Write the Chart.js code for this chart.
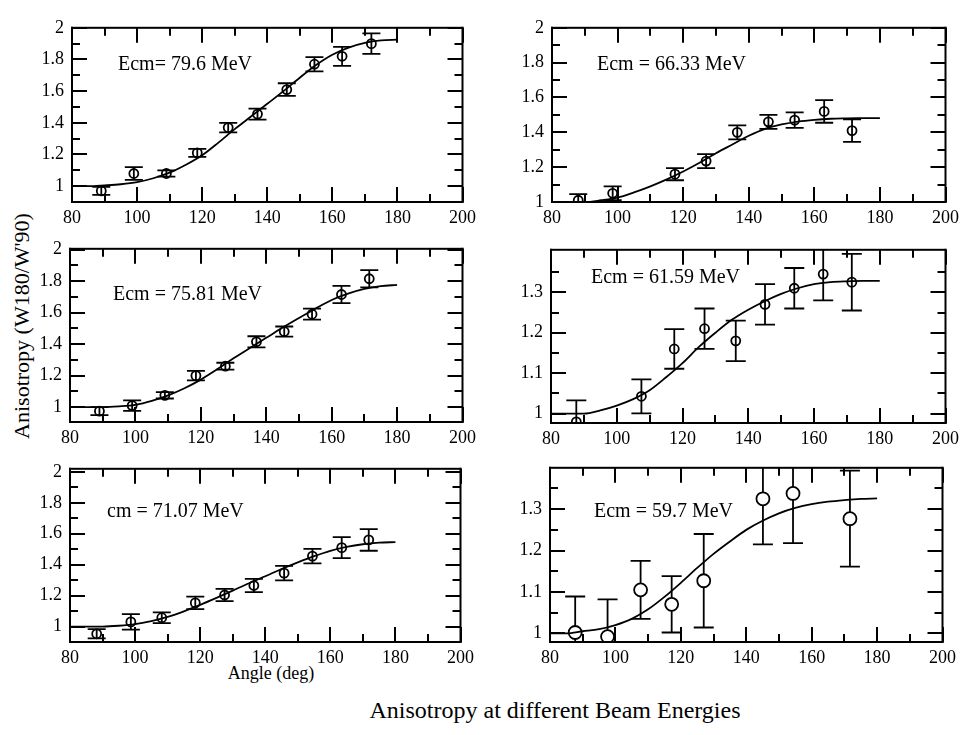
<!DOCTYPE html>
<html>
<head>
<meta charset="utf-8">
<script src="https://cdn.jsdelivr.net/npm/chart.js@4.4.1/dist/chart.umd.min.js"></script>
<style>
  body { margin: 0; background: #fff; }
  #page { position: relative; width: 978px; height: 735px; overflow: hidden; font-family: "Liberation Serif", serif; color: #000; }
  #page canvas { position: absolute; }
  .txt { position: absolute; white-space: nowrap; }
</style>
</head>
<body>
<div id="page">
  <div class="txt" style="left:22px; top:326px; font-size:22px; line-height:22px; transform:translate(-50%,-50%) rotate(-90deg);">Anisotropy (W180/W'90)</div>
  <div class="txt" style="left:271px; top:664px; font-size:18px; line-height:18px; transform:translateX(-50%);">Angle (deg)</div>
  <div class="txt" style="left:555px; top:698px; font-size:24px; line-height:24px; transform:translateX(-50%);">Anisotropy at different Beam Energies</div>
</div>
<script>
// tick values
var xTicks = [80, 100, 120, 140, 160, 180, 200];
var xMinor = [90, 110, 130, 150, 170, 190];
var yTicksWide = [1, 1.2, 1.4, 1.6, 1.8, 2];
var yMinorWide = [1.1, 1.3, 1.5, 1.7, 1.9];
var yTicksNarrow = [1, 1.1, 1.2, 1.3];
var yMinorNarrow = [1.05, 1.15, 1.25, 1.35];

// angles of the fitted curves
var fitAngles = [80, 85, 90, 95, 100, 105, 110, 115, 120, 125, 130, 135, 140, 145, 150, 155, 160, 165, 170, 175, 180];

// Ecm = 79.6 MeV
var ang796 = [89, 99, 109, 118.5, 128, 137, 146, 154.5, 163, 172];
var val796 = [0.97, 1.08, 1.08, 1.21, 1.37, 1.455, 1.61, 1.77, 1.82, 1.9];
var err796 = [0.025, 0.04, 0.02, 0.025, 0.03, 0.035, 0.04, 0.045, 0.06, 0.065];
var fit796 = [1.0, 1.0, 1.005, 1.012, 1.025, 1.05, 1.085, 1.135, 1.195, 1.275, 1.36, 1.44, 1.52, 1.6, 1.685, 1.765, 1.83, 1.875, 1.905, 1.92, 1.925];

// Ecm = 66.33 MeV
var ang6633 = [88, 98.5, 117.5, 127, 136.5, 146, 154, 163, 171.5];
var val6633 = [1.01, 1.05, 1.16, 1.235, 1.4, 1.46, 1.47, 1.52, 1.41];
var err6633 = [0.035, 0.04, 0.035, 0.04, 0.04, 0.04, 0.045, 0.065, 0.065];
var fit6633 = [1.0, 1.0, 1.0, 1.01, 1.025, 1.055, 1.09, 1.13, 1.175, 1.225, 1.28, 1.33, 1.38, 1.42, 1.445, 1.462, 1.472, 1.478, 1.48, 1.481, 1.482];

// Ecm = 75.81 MeV
var ang7581 = [89, 99, 109, 118.5, 127.5, 137, 145.5, 154, 163, 171.5];
var val7581 = [0.975, 1.01, 1.075, 1.2, 1.26, 1.415, 1.48, 1.59, 1.715, 1.815];
var err7581 = [0.025, 0.033, 0.02, 0.03, 0.022, 0.035, 0.032, 0.035, 0.055, 0.055];
var fit7581 = [1.0, 1.0, 1.0, 1.005, 1.015, 1.04, 1.075, 1.12, 1.175, 1.24, 1.31, 1.375, 1.44, 1.505, 1.566, 1.625, 1.68, 1.72, 1.75, 1.768, 1.776];

// Ecm = 61.59 MeV
var ang6159 = [87.7, 107.5, 117.5, 126.7, 136.2, 145.1, 154, 162.8, 171.5];
var val6159 = [0.98, 1.043, 1.16, 1.21, 1.18, 1.27, 1.31, 1.345, 1.325];
var err6159 = [0.053, 0.042, 0.049, 0.05, 0.05, 0.05, 0.05, 0.065, 0.07];
var fit6159 = [1.0, 1.0, 1.0, 1.008, 1.02, 1.036, 1.058, 1.09, 1.125, 1.165, 1.2, 1.232, 1.257, 1.278, 1.296, 1.31, 1.32, 1.325, 1.327, 1.328, 1.328];

// Ecm = 71.07 MeV
var ang7107 = [88.2, 98.7, 108.2, 118.5, 127.5, 136.5, 145.8, 154.5, 163.5, 171.8];
var val7107 = [0.953, 1.03, 1.057, 1.153, 1.204, 1.265, 1.345, 1.455, 1.51, 1.56];
var err7107 = [0.03, 0.05, 0.035, 0.04, 0.04, 0.043, 0.047, 0.047, 0.068, 0.07];
var fit7107 = [1.0, 1.0, 1.0, 1.005, 1.015, 1.035, 1.062, 1.098, 1.14, 1.185, 1.232, 1.28, 1.325, 1.372, 1.415, 1.455, 1.49, 1.515, 1.532, 1.542, 1.546];

// Ecm = 59.7 MeV
var ang597 = [87.7, 97.6, 107.7, 117.2, 127, 145.1, 154.3, 171.7];
var val597 = [1.002, 0.992, 1.105, 1.07, 1.127, 1.325, 1.338, 1.277];
var err597 = [0.087, 0.09, 0.07, 0.068, 0.113, 0.11, 0.12, 0.116];
var fit597 = [1.0, 1.0, 1.005, 1.01, 1.02, 1.035, 1.058, 1.088, 1.122, 1.158, 1.192, 1.222, 1.25, 1.272, 1.29, 1.303, 1.312, 1.318, 1.322, 1.325, 1.326];

var FONT = '"Liberation Serif", serif';
var AXIS_W = 60, AXIS_H = 34, PAD_TOP = 24, PAD_RIGHT = 24;
var MAJOR = 15, MINOR = 8;

function pairs(xs, ys) {
  return xs.map(function(x, i) { return {x: x, y: ys[i]}; });
}

function seg(ctx, x1, y1, x2, y2) {
  ctx.beginPath();
  ctx.moveTo(x1, y1);
  ctx.lineTo(x2, y2);
  ctx.stroke();
}

// tick marks pointing into the box (negative tickLength), no grid lines
function inwardGrid(len) {
  return { display: true, drawOnChartArea: false, drawTicks: true, tickLength: -len,
           tickWidth: 2, tickColor: '#000', lineWidth: 2, color: '#000' };
}

// zero-size axis that only carries tick marks on one side of the box
function tickAxis(axis, position, min, max, values, len, weight) {
  return {
    type: 'linear', axis: axis, position: position, min: min, max: max, weight: weight,
    grid: inwardGrid(len),
    border: { display: false },
    ticks: { display: false, autoSkip: false },
    afterBuildTicks: function(s) { s.ticks = values.map(function(v) { return {value: v}; }); },
    afterFit: function(s) { if (axis === 'x') s.height = 0; else s.width = 0; }
  };
}

// error bars under the markers, box on top, energy label last
var panelPlugin = {
  id: 'panelmarks',
  beforeDatasetsDraw: function(chart) {
    var ctx = chart.ctx, a = chart.chartArea, sy = chart.scales.y;
    var panel = chart.config.options.panel;
    var cap = panel.cap;
    ctx.save();
    ctx.beginPath();
    ctx.rect(a.left, a.top, a.right - a.left, a.bottom - a.top);
    ctx.clip();
    ctx.strokeStyle = '#000';
    ctx.lineWidth = 1.8;
    chart.getDatasetMeta(1).data.forEach(function(pt, i) {
      var v = panel.val[i], e = panel.err[i];
      var hi = sy.getPixelForValue(v + e), lo = sy.getPixelForValue(v - e);
      seg(ctx, pt.x, hi, pt.x, lo);
      seg(ctx, pt.x - cap, hi, pt.x + cap, hi);
      seg(ctx, pt.x - cap, lo, pt.x + cap, lo);
    });
    ctx.restore();
  },
  afterDatasetsDraw: function(chart) {
    var ctx = chart.ctx, a = chart.chartArea;
    ctx.save();
    ctx.fillStyle = '#000';
    var w = a.right - a.left, h = a.bottom - a.top;
    ctx.fillRect(a.left - 1, a.top - 1, w + 2, 2);
    ctx.fillRect(a.left - 1, a.bottom - 1, w + 2, 2);
    ctx.fillRect(a.left - 1, a.top - 1, 2, h + 2);
    ctx.fillRect(a.right - 1, a.top - 1, 2, h + 2);
    ctx.restore();
  },
  afterDraw: function(chart) {
    var ctx = chart.ctx, a = chart.chartArea;
    var panel = chart.config.options.panel;
    ctx.save();
    ctx.fillStyle = '#000';
    ctx.font = '20px ' + FONT;
    ctx.textBaseline = 'middle';
    ctx.fillText(panel.label, a.left + panel.dx, a.top + panel.dy);
    ctx.restore();
  }
};

var panels = [
  {rect: [72, 18, 472, 202], ang: ang796, val: val796, err: err796, fit: fit796, yMin: 0.9, yMax: 2,
   yMajor: yTicksWide, yMinor: yMinorWide, label: 'Ecm= 79.6 MeV', dx: 46, dy: 37, r: 4.5, cap: 9, fill: 'rgba(0,0,0,0)'},
  {rect: [552, 18, 955, 202], ang: ang6633, val: val6633, err: err6633, fit: fit6633, yMin: 1, yMax: 2,
   yMajor: yTicksWide, yMinor: yMinorWide, label: 'Ecm = 66.33 MeV', dx: 45, dy: 37, r: 4.5, cap: 9, fill: 'rgba(0,0,0,0)'},
  {rect: [70, 239, 472, 422], ang: ang7581, val: val7581, err: err7581, fit: fit7581, yMin: 0.906, yMax: 2.005,
   yMajor: yTicksWide, yMinor: yMinorWide, label: 'Ecm = 75.81 MeV', dx: 43, dy: 46, r: 4.5, cap: 9, fill: 'rgba(0,0,0,0)'},
  {rect: [551, 240, 955, 423], ang: ang6159, val: val6159, err: err6159, fit: fit6159, yMin: 0.977, yMax: 1.405,
   yMajor: yTicksNarrow, yMinor: yMinorNarrow, label: 'Ecm = 61.59 MeV', dx: 40, dy: 28, r: 4.5, cap: 10, fill: 'rgba(0,0,0,0)'},
  {rect: [70, 459, 470, 642], ang: ang7107, val: val7107, err: err7107, fit: fit7107, yMin: 0.9, yMax: 2.02,
   yMajor: yTicksWide, yMinor: yMinorWide, label: 'cm = 71.07 MeV', dx: 37, dy: 43, r: 4.5, cap: 9, fill: 'rgba(0,0,0,0)'},
  {rect: [550, 458, 952, 642], ang: ang597, val: val597, err: err597, fit: fit597, yMin: 0.979, yMax: 1.4,
   yMajor: yTicksNarrow, yMinor: yMinorNarrow, label: 'Ecm = 59.7 MeV', dx: 44, dy: 44, r: 6.5, cap: 10, fill: '#fff'}
];

var page = document.getElementById('page');

panels.forEach(function(p) {
  var L = p.rect[0], T = p.rect[1], R = p.rect[2], B = p.rect[3];
  var cv = document.createElement('canvas');
  cv.width = R - L + AXIS_W + PAD_RIGHT;
  cv.height = B - T + AXIS_H + PAD_TOP;
  cv.style.left = (L - AXIS_W) + 'px';
  cv.style.top = (T - PAD_TOP) + 'px';
  page.appendChild(cv);

  new Chart(cv, {
    type: 'scatter',
    data: {
      datasets: [{
        data: pairs(fitAngles, p.fit),
        xAxisID: 'x', yAxisID: 'y',
        showLine: true,
        pointRadius: 0,
        borderColor: '#000',
        borderWidth: 1.8,
        cubicInterpolationMode: 'monotone'
      }, {
        data: pairs(p.ang, p.val),
        xAxisID: 'x', yAxisID: 'y',
        pointRadius: p.r,
        pointBorderWidth: 1.8,
        borderColor: '#000',
        backgroundColor: p.fill
      }]
    },
    options: {
      panel: p,
      responsive: false,
      animation: false,
      events: [],
      layout: { padding: { top: PAD_TOP, right: PAD_RIGHT, left: 0, bottom: 0 } },
      plugins: {
        legend: { display: false },
        tooltip: { enabled: false }
      },
      scales: {
        x: {
          type: 'linear', axis: 'x', position: 'bottom', min: 80, max: 200, weight: 0,
          grid: inwardGrid(MAJOR),
          border: { display: false },
          ticks: { color: '#000', padding: 5 + MAJOR, maxRotation: 0, autoSkip: false, font: { family: FONT, size: 18 }, callback: function(v) { return String(v); } },
          afterBuildTicks: function(s) { s.ticks = xTicks.map(function(v) { return {value: v}; }); },
          afterFit: function(s) { s.height = AXIS_H; }
        },
        y: {
          type: 'linear', axis: 'y', position: 'left', min: p.yMin, max: p.yMax, weight: 0,
          grid: inwardGrid(MAJOR),
          border: { display: false },
          ticks: { color: '#000', padding: 8 + MAJOR, autoSkip: false, font: { family: FONT, size: 18 }, callback: function(v) { return String(v); } },
          afterBuildTicks: function(s) { s.ticks = p.yMajor.map(function(v) { return {value: v}; }); },
          afterFit: function(s) { s.width = AXIS_W; }
        },
        xm: tickAxis('x', 'bottom', 80, 200, xMinor, MINOR, -1),
        x2: tickAxis('x', 'top', 80, 200, xTicks, MAJOR, 0),
        x2m: tickAxis('x', 'top', 80, 200, xMinor, MINOR, 1),
        ym: tickAxis('y', 'left', p.yMin, p.yMax, p.yMinor, MINOR, -1),
        y2: tickAxis('y', 'right', p.yMin, p.yMax, p.yMajor, MAJOR, 0),
        y2m: tickAxis('y', 'right', p.yMin, p.yMax, p.yMinor, MINOR, 1)
      }
    },
    plugins: [panelPlugin]
  });
});
</script>
</body>
</html>
